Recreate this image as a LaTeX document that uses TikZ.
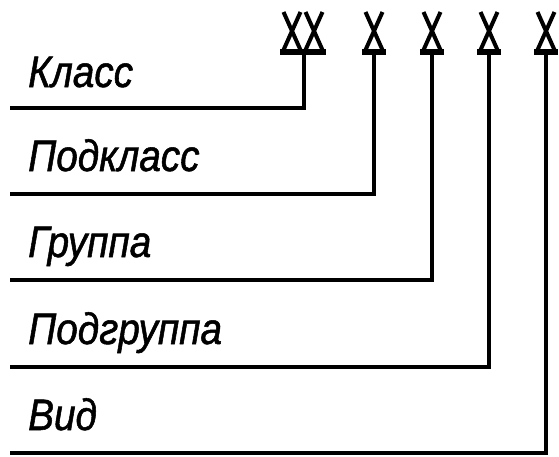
\documentclass[tikz,border=0pt]{standalone}
\usepackage{fontspec}
\newfontfamily\gostfont[FakeStretch=0.88,FakeBold=1.2]{Liberation Sans}
\tikzset{
  leader/.style={line width=3.6pt, line cap=rect},
  symstroke/.style={line width=4pt},
  basebar/.style={line width=5.5pt},
  label/.style={anchor=base west, inner sep=0pt, font=\gostfont\itshape\fontsize{44}{44}\selectfont},
  pics/gostx/.style={code={
    \draw[symstroke] (-8.5,-2) -- (8.5,-40) (8.5,-2) -- (-8.5,-40);
  }}
}
\begin{document}
\begin{tikzpicture}[x=1pt,y=-1pt]
\useasboundingbox (0,0) rectangle (559,456);
% symbols
\pic at (292,52) {gostx};
\pic at (314,52) {gostx};
\draw[basebar] (280,52) -- (326,52);
\foreach \c in {374,432,489,546}{
  \pic at (\c,52) {gostx};
  \draw[basebar] (\c-12,52) -- (\c+12,52);
}
% stem tops
\coordinate (s1) at (304,52);
\coordinate (s2) at (374,52);
\coordinate (s3) at (432,52);
\coordinate (s4) at (489,52);
\coordinate (s5) at (546,52);
% left ends of the leader lines
\coordinate (e1) at (12,108);
\coordinate (e2) at (12,194);
\coordinate (e3) at (12,280);
\coordinate (e4) at (12,367);
\coordinate (e5) at (12,453);
\draw[leader] (s1) |- (e1);
\draw[leader] (s2) |- (e2);
\draw[leader] (s3) |- (e3);
\draw[leader] (s4) |- (e4);
\draw[leader] (s5) |- (e5);
% labels
\node[label] (t1) at (28,87) {Класс};
\node[label] (t2) at (28,171) {Подкласс};
\node[label] (t3) at (28,257) {Группа};
\node[label] (t4) at (28,344) {Подгруппа};
\node[label] (t5) at (28,430) {Вид};
\end{tikzpicture}
\end{document}
